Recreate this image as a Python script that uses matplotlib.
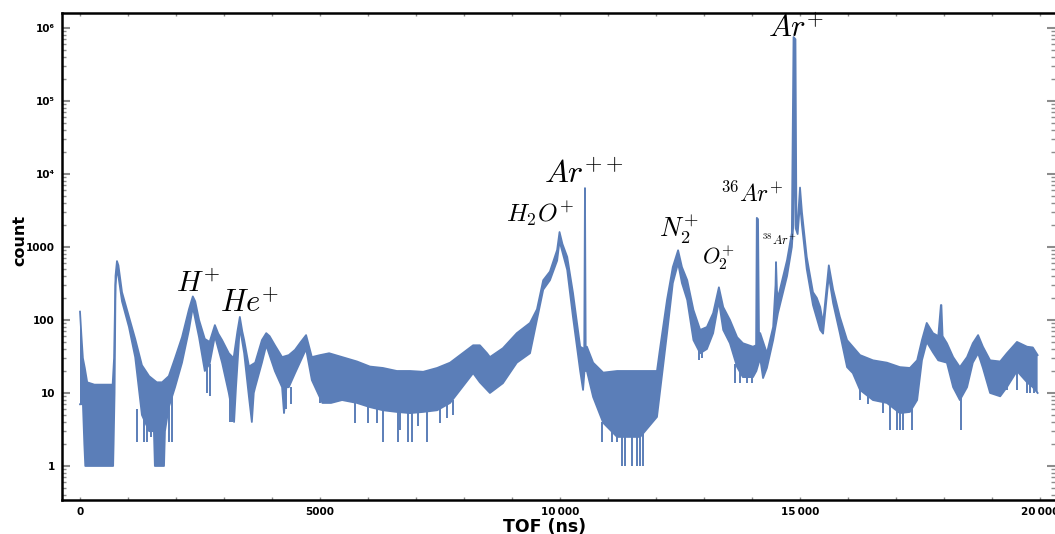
import numpy as np
import matplotlib
matplotlib.use("Agg")
import matplotlib.pyplot as plt
from matplotlib.ticker import FixedLocator, FuncFormatter, LogLocator, MultipleLocator

plt.rcParams['mathtext.fontset'] = 'cm'
plt.rcParams['font.family'] = ['DejaVu Sans']

# TOF spectrum, upper edge of the noise band (ns, counts)
t_upper = [0, 30, 60, 100, 150, 300, 500, 680, 710, 740, 770, 800, 875, 1020, 1150,
           1290, 1440, 1600, 1710, 1850, 1980, 2125, 2270, 2350, 2400, 2480, 2600,
           2700, 2810, 2880, 2960, 3100, 3200, 3280, 3330, 3380, 3420, 3520, 3650,
           3790, 3880, 3950, 4060, 4210, 4350, 4480, 4600, 4710, 4830, 5000, 5190,
           5460, 5770, 6040, 6310, 6600, 6875, 7150, 7440, 7710, 7920, 8190, 8330,
           8480, 8540, 8810, 9100, 9375, 9520, 9650, 9790, 9940, 9990, 10050, 10150,
           10270, 10420, 10505, 10520, 10535, 10560, 10690, 10900, 11190, 11670,
           12020, 12080, 12230, 12350, 12460, 12540, 12650, 12780, 12920, 13060,
           13190, 13310, 13400, 13540, 13690, 13810, 14020, 14085, 14100, 14125,
           14145, 14170, 14310, 14440, 14490, 14500, 14520, 14540, 14730, 14830,
           14865, 14880, 14905, 14925, 14950, 15000, 15040, 15140, 15270, 15350,
           15420, 15480, 15600, 15690, 15830, 15980, 16100, 16250, 16520, 16810,
           17080, 17290, 17440, 17540, 17640, 17770, 17880, 17935, 17945, 17970,
           18060, 18190, 18330, 18480, 18600, 18710, 18810, 18960, 19170, 19310,
           19520, 19730, 19850, 19950]
c_upper = [130, 60, 30, 22, 14, 13, 13, 13, 30, 400, 640, 560, 240, 110, 55,
           24, 17, 14, 14, 17, 30, 58, 140, 210, 180, 100, 55,
           50, 85, 65, 53, 35, 30, 70, 110, 70, 53, 23, 26,
           53, 66, 60, 45, 31, 33, 39, 50, 62, 31, 33, 35,
           31, 27, 23, 22, 20, 20, 19.5, 22, 26, 33, 45, 45,
           35, 31, 41, 66, 91, 140, 350, 460, 910, 1600, 1100, 730,
           235, 43, 40, 6400, 40, 43, 26, 19, 20, 20,
           20, 39, 190, 530, 900, 530, 350, 137, 73, 80,
           124, 280, 150, 100, 58, 48, 43, 45, 2500, 2400,
           66, 66, 35, 80, 300, 620, 250, 200, 660, 1560,
           7.5e5, 7.3e5, 7.0e5, 2100, 2000, 6500, 3000, 730, 240, 200,
           150, 90, 560, 260, 110, 53, 43, 33, 28, 26,
           22.6, 22, 28, 53, 91, 66, 60, 160, 160, 60,
           48, 31, 22.6, 31, 48, 62, 43, 28, 27, 35,
           50, 43, 42, 33]

# lower edge of the noise band
t_lower = [0, 30, 60, 90, 110, 690, 700, 720, 740, 770, 800, 875, 1020, 1150,
           1290, 1440, 1540, 1560, 1750, 1770, 1850, 1980, 2125, 2270, 2350, 2480,
           2600, 2700, 2810, 2960, 3100, 3210, 3250, 3330, 3420, 3520, 3580, 3620,
           3650, 3790, 3880, 4060, 4210, 4250, 4300, 4350, 4480, 4710, 4830, 5050,
           5230, 5460, 5770, 6040, 6310, 6600, 6875, 7150, 7440, 7710, 7920, 8190,
           8330, 8540, 8810, 9100, 9375, 9520, 9650, 9790, 9940, 9990, 10150, 10270,
           10420, 10480, 10510, 10560, 10690, 10900, 11190, 11670, 12020, 12080,
           12230, 12350, 12460, 12540, 12650, 12780, 12920, 13060, 13190, 13310,
           13400, 13540, 13690, 13810, 14020, 14090, 14170, 14230, 14310, 14440,
           14540, 14730, 14830, 14860, 14885, 14910, 14950, 15000, 15040, 15140,
           15270, 15420, 15480, 15600, 15690, 15830, 15980, 16100, 16250, 16520,
           16810, 17080, 17290, 17440, 17540, 17640, 17770, 17880, 18060, 18190,
           18330, 18480, 18600, 18710, 18810, 18960, 19170, 19310, 19520, 19730,
           19850, 19950]
c_lower = [7, 7, 7.3, 2, 1, 1, 2, 10, 300, 500, 400, 180, 80, 31,
           5, 3, 3, 1, 1, 3, 6.4, 12, 26, 73, 150, 58,
           20, 25, 60, 26, 10, 4, 12, 80, 35, 8.8, 4, 10,
           12, 26, 45, 20, 12, 5.3, 12, 12, 18.7, 40, 15, 7.3,
           7.3, 8, 7.3, 6.4, 5.8, 5.5, 5.3, 5.5, 5.8, 7.3, 11, 18.7,
           14, 10, 13.6, 26, 35, 100, 260, 350, 650, 1200, 485, 110,
           20, 11, 20, 20, 8.8, 3.9, 2.5, 2.5, 4.7, 10,
           66, 320, 600, 320, 188, 53, 35, 40, 66, 180,
           73, 48, 22.6, 16.5, 16.5, 20, 30, 16, 22, 53,
           124, 400, 1000, 2000, 1e5, 1800, 1500, 4000, 2000, 500,
           160, 73, 65, 400, 170, 66, 22.6, 18.7, 11, 8,
           7.3, 5.3, 5.5, 8, 28, 50, 36, 28, 26, 12,
           8, 12, 26, 35, 22, 10, 9, 12, 20, 14,
           12, 10]

# single-bin drop-outs below the band
dip_t = [1190, 1330, 1400, 1480, 1850, 1920, 2650, 2700, 3120, 3170, 4240, 4300,
         4400, 5000, 5100, 5150, 5730, 6000, 6190, 6310, 6625, 6670,
         6830, 6910, 7040, 7225, 7500, 7650, 7770, 10870, 11080, 11180, 11290, 11350,
         11500, 11600, 11670, 11730, 12900, 12950, 13650, 13750, 13890, 14000,
         16250, 16420, 16730, 16870, 17020, 17080, 17150, 17330, 18350, 19030,
         19310, 19520, 19730, 19800, 19870]
dip_lo = [2.1, 2.1, 2.1, 2.5, 2.1, 2.1, 10, 9, 4, 4, 5.3, 6,
          7, 7.3, 7.3, 7.3, 3.9, 3.9, 3.9, 2.1, 2.1, 3.1,
          2.1, 2.1, 3.5, 2.1, 3.9, 4.5, 5, 2.1, 2.1, 2.1, 1, 1,
          1, 1, 1, 1, 28, 30, 13.6, 13.6, 13.6, 13.6,
          8, 7, 5.3, 3.1, 3.1, 3.1, 3.1, 3.1, 3.1, 10,
          11, 11, 10, 10, 10]
dip_hi = [6, 6, 5, 4, 8, 10, 25, 25, 10, 10, 12, 12,
          12, 12, 12, 12, 8, 7, 7, 6, 6, 6,
          6, 6, 6, 6, 6, 7, 8, 4, 3, 3, 3, 3,
          3, 3, 3, 3, 45, 45, 25, 20, 18, 18,
          14, 10, 8, 8, 7, 6, 6, 6, 9, 16,
          16, 22, 18, 16, 16]

# peak labels: text, position (ns, counts), size
label_text = [r'$H^{+}$', r'$He^{+}$', r'$H_2O^{+}$', r'$Ar^{++}$', r'$N_2^{+}$',
              r'$O_2^{+}$', r'$^{36}Ar^{+}$', r'$^{38}Ar^{+}$', r'$Ar^{+}$']
label_t = [2460, 3540, 9580, 10500, 12480, 13300, 13980, 14560, 14920]
label_c = [242, 129, 2200, 7540, 1370, 570, 4160, 1060, 7.5e5]
label_size = [21, 22, 18, 23, 19, 16, 17, 9, 22]

color = '#5b7eb8'

fig = plt.figure(figsize=(10.55, 5.34), dpi=100)
ax = fig.add_axes([62 / 1055, 34 / 534, 1 - 62 / 1055, 487 / 534])

poly_t = np.concatenate([t_upper, t_lower[::-1]])
poly_c = np.concatenate([c_upper, c_lower[::-1]])
ax.fill(poly_t, poly_c, color=color, lw=0)
ax.plot(t_upper, c_upper, color=color, lw=1.3)
ax.plot(t_lower, c_lower, color=color, lw=1.3)
ax.vlines(dip_t, dip_lo, dip_hi, color=color, lw=1.4)

for s, x, y, fs in zip(label_text, label_t, label_c, label_size):
    ax.text(x, y, s, fontsize=fs, ha='center', va='baseline')

ax.set_yscale('log')
ax.set_xlim(-375, 20312)
ax.set_ylim(0.342, 1.6e6)

ax.yaxis.set_major_locator(FixedLocator([1, 10, 100, 1000, 1e4, 1e5, 1e6]))
ax.yaxis.set_minor_locator(LogLocator(base=10, subs=np.arange(2, 10)))

sup = str.maketrans('0123456789', '\u2070\u00b9\u00b2\u00b3\u2074\u2075\u2076\u2077\u2078\u2079')


def ylab(v, pos):
    if v < 1e4:
        return '%d' % v
    return '10' + str(int(round(np.log10(v)))).translate(sup)


def xlab(v, pos):
    v = int(v)
    if v >= 10000:
        return '%d\u2009%03d' % (v // 1000, v % 1000)
    return '%d' % v


ax.yaxis.set_major_formatter(FuncFormatter(ylab))
ax.xaxis.set_major_locator(MultipleLocator(5000))
ax.xaxis.set_minor_locator(MultipleLocator(1000))
ax.xaxis.set_major_formatter(FuncFormatter(xlab))

ax.tick_params(axis='y', which='major', direction='in', length=6, width=1.5,
               color='#8c8c8c', left=True, right=True, labelsize=7.5, pad=5)
ax.tick_params(axis='y', which='minor', direction='in', length=3, width=1,
               color='#8c8c8c', left=True, right=True)
ax.tick_params(axis='x', which='both', direction='in', length=2, width=1,
               color='#8c8c8c', top=True, bottom=True, labelsize=7.5, pad=5)
for lab in ax.get_xticklabels() + ax.get_yticklabels():
    lab.set_fontweight('bold')

for side in ['left', 'bottom', 'top']:
    ax.spines[side].set_linewidth(1.8)
    ax.spines[side].set_color('black')
ax.spines['right'].set_visible(False)

ax.set_xlabel('TOF (ns)', fontsize=12.5, fontweight='bold')
ax.set_ylabel('count', fontsize=11.5, fontweight='bold')
ax.xaxis.set_label_coords((545 - 62) / 993, -0.036)
ax.yaxis.set_label_coords(-0.035, (500 - 240) / 487)

fig.savefig('out.png', dpi=100)
